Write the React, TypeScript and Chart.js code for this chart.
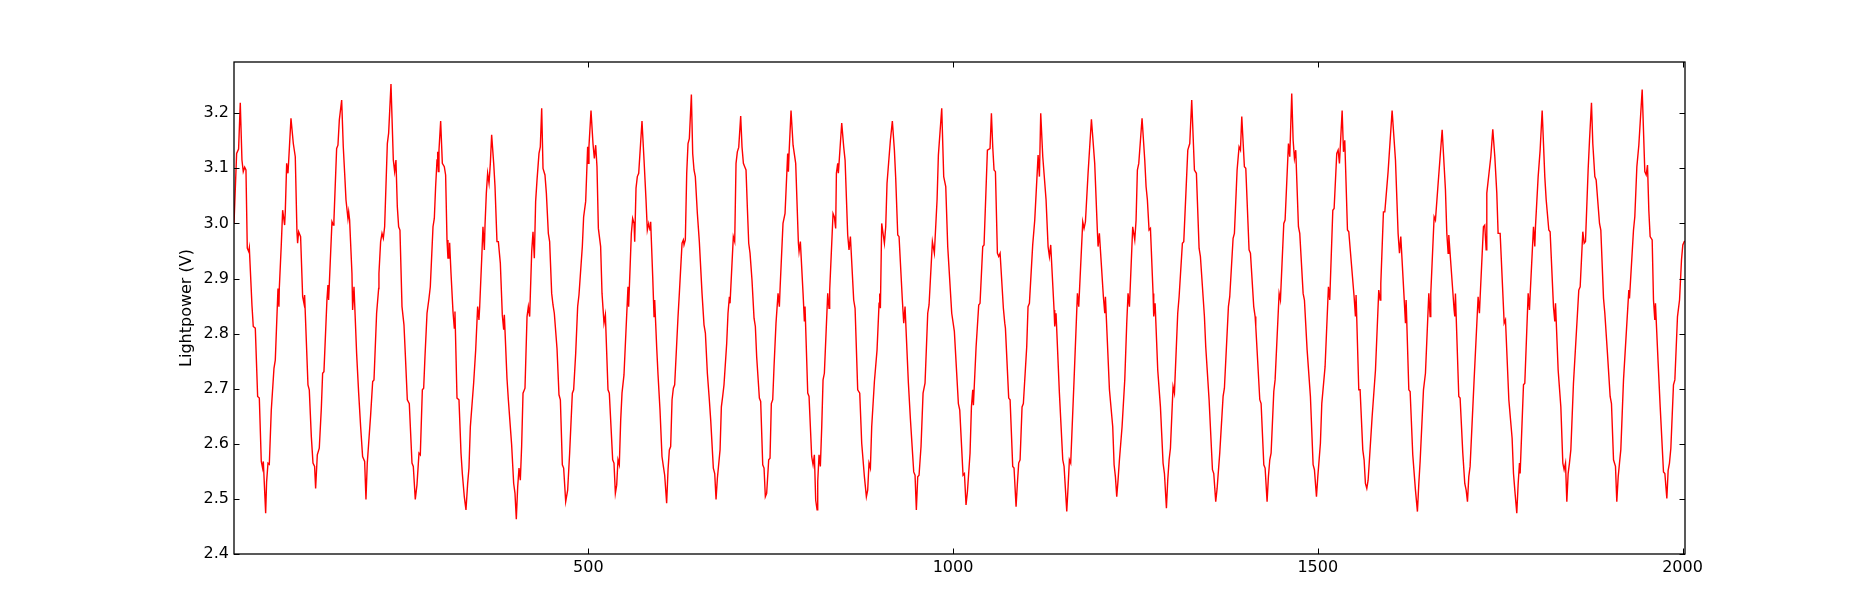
import React, { useEffect, useRef } from "react";
import { Chart, registerables } from "chart.js";

Chart.register(...registerables);

const X_MIN = 14.3;
const X_MAX = 2003.4;
const Y_MIN = 2.4;
const Y_MAX = 3.293;
const xTickValues = [500, 1000, 1500, 2000];
const yTickValues = [2.4, 2.5, 2.6, 2.7, 2.8, 2.9, 3.0, 3.1, 3.2];
const yAxisTitle = "Lightpower (V)";

const seg1 = [[14.3,3.000],[17.9,3.127],[20.6,3.135],[22.9,3.219],[25.2,3.115],[27.0,3.094],[28.9,3.102],[30.7,3.097],[32.5,2.955],[34.4,2.949],[35.3,2.956],[38.9,2.852],[40.7,2.813],[43.5,2.810],[46.7,2.686],[49.0,2.683],[51.7,2.568],[53.5,2.556],[54.5,2.568],[57.7,2.474],[59.0,2.531],[60.9,2.565],[62.7,2.563],[65.4,2.661],[69.1,2.737],[70.9,2.752],[74.6,2.882],[75.9,2.849],[76.4,2.882],[79.1,2.961],[81.0,3.024],[83.7,2.997],[84.6,3.021],[86.5,3.109],[88.3,3.091],[89.2,3.112],[92.4,3.191],[95.6,3.145],[98.3,3.121],[100.6,2.985],[101.5,2.964],[102.9,2.985],[105.6,2.976],[108.4,2.867],[110.2,2.855],[111.1,2.870],[115.7,2.707],[117.5,2.698],[120.3,2.613],[122.6,2.565],[124.8,2.559],[126.2,2.519],[128.5,2.580],[131.2,2.592],[134.0,2.664],[135.8,2.728],[137.6,2.731],[141.7,2.861],[143.1,2.888],[144.0,2.861],[144.9,2.888],[148.6,3.003],[150.4,2.997],[151.3,3.006],[155.0,3.136],[156.8,3.142],[158.7,3.188],[161.9,3.224],[164.1,3.139],[166.0,3.091],[167.8,3.043],[170.5,3.009],[171.5,3.021],[172.8,3.006],[176.0,2.909],[176.9,2.843],[178.8,2.885],[182.4,2.764],[185.2,2.692],[187.9,2.631],[190.6,2.577],[193.4,2.568],[195.2,2.499],[197.0,2.565],[198.9,2.601],[201.6,2.652],[204.4,2.713],[206.2,2.716],[209.8,2.837],[212.6,2.882],[213.0,2.909],[215.3,2.967],[217.2,2.982],[219.0,2.973],[220.8,2.994],[224.5,3.145],[226.3,3.164],[229.5,3.253],[232.7,3.115],[234.5,3.094],[236.3,3.115],[238.2,3.030],[240.0,2.994],[241.8,2.988],[244.6,2.849],[247.3,2.816],[249.1,2.764],[251.9,2.680],[254.6,2.673],[258.3,2.565],[260.1,2.559],[262.8,2.499]];

const seg2 = [[265.1,2.525],[267.9,2.583],[269.7,2.580],[272.5,2.698],[274.3,2.701],[276.1,2.758],[278.9,2.837],[281.6,2.864],[283.4,2.885],[287.1,2.994],[288.9,3.009],[290.7,3.067],[292.6,3.115],[293.5,3.130],[294.4,3.094],[295.3,3.133],[297.6,3.186],[299.9,3.109],[302.6,3.103],[304.4,3.088],[306.3,2.970],[307.6,2.937],[309.0,2.937],[309.9,2.965],[311.8,2.909],[314.5,2.840],[316.3,2.810],[317.2,2.840],[320.0,2.683],[322.7,2.680],[325.5,2.583],[327.3,2.546],[330.0,2.504],[332.3,2.480],[334.6,2.528],[336.4,2.556],[338.3,2.631],[342.8,2.710],[345.6,2.770],[348.3,2.849],[350.1,2.825],[351.1,2.849],[353.8,2.934],[355.6,2.994],[357.5,2.952],[358.4,2.997],[360.2,3.055],[362.0,3.091],[363.9,3.073],[365.7,3.109],[367.5,3.161],[370.3,3.109],[372.1,3.067],[374.8,2.967],[376.7,2.967],[379.4,2.928],[382.1,2.834],[384.0,2.807],[384.9,2.834],[388.5,2.719],[390.4,2.680],[394.9,2.598],[397.7,2.528],[399.5,2.510],[401.3,2.463],[403.2,2.522],[405.0,2.556],[406.8,2.534],[408.6,2.595],[410.5,2.692],[413.2,2.701],[416.0,2.831],[417.8,2.849],[419.6,2.831],[422.4,2.949],[424.2,2.985],[426.0,2.937],[427.8,3.040],[429.7,3.079],[432.4,3.127],[434.2,3.139],[436.1,3.209],[437.9,3.100],[440.6,3.088],[442.5,3.055],[445.2,2.982],[447.0,2.967],[449.8,2.873],[451.6,2.852],[453.4,2.837],[457.1,2.773],[459.8,2.689],[461.7,2.680],[464.4,2.562],[466.2,2.556],[469.0,2.495],[471.7,2.516],[474.4,2.583],[478.1,2.692],[479.9,2.698],[482.7,2.764],[485.4,2.849],[487.2,2.870],[491.8,2.958],[493.6,3.012],[496.4,3.040],[499.1,3.139],[500.0,3.109],[500.9,3.140],[503.7,3.205],[506.4,3.145],[508.3,3.118],[510.1,3.142],[511.9,3.103],[513.8,2.991]];

const seg3 = [[516.9,2.958],[518.8,2.873],[521.5,2.819],[523.4,2.834],[527.0,2.698],[528.8,2.692],[533.4,2.571],[535.2,2.565],[537.1,2.510],[538.9,2.525],[540.7,2.571],[542.5,2.562],[544.4,2.643],[546.2,2.692],[548.9,2.725],[551.7,2.807],[554.4,2.885],[555.3,2.849],[556.3,2.885],[559.0,2.982],[560.8,3.009],[562.7,3.000],[563.6,2.967],[565.4,3.064],[567.2,3.085],[569.1,3.091],[573.6,3.186],[576.4,3.115],[579.1,3.043],[580.9,2.988],[582.8,3.000],[584.6,2.988],[585.5,3.003],[588.3,2.903],[590.1,2.831],[591.0,2.861],[593.7,2.776],[595.6,2.725],[598.3,2.661],[601.0,2.577],[602.9,2.559],[604.7,2.543],[607.4,2.492],[609.3,2.553],[611.1,2.589],[612.9,2.595],[614.8,2.680],[616.6,2.701],[618.4,2.707],[623.0,2.831],[624.8,2.873],[628.5,2.964],[630.3,2.970],[631.2,2.961],[633.0,2.970],[634.9,3.091],[636.7,3.145],[638.5,3.154],[641.3,3.234],[643.1,3.127],[644.9,3.097],[646.7,3.085],[649.5,3.018],[652.2,2.967],[655.9,2.873],[658.6,2.816],[660.5,2.801],[663.2,2.728],[665.9,2.680],[667.8,2.643],[671.4,2.556],[673.3,2.546],[675.1,2.499],[676.9,2.537],[680.6,2.589],[682.4,2.667],[684.2,2.686],[686.0,2.707],[689.7,2.782],[691.5,2.837],[693.4,2.867],[694.3,2.855],[698.8,2.976],[700.7,2.967],[702.5,3.109],[704.3,3.130],[706.2,3.138],[708.9,3.195],[710.7,3.139],[712.6,3.109],[714.4,3.103],[716.2,3.097],[718.0,3.030],[719.9,2.964],[721.7,2.946],[724.4,2.897],[727.2,2.828],[729.0,2.813],[730.8,2.758],[734.5,2.683],[736.3,2.677],[739.1,2.562],[740.9,2.556],[742.7,2.504],[744.5,2.510],[747.3,2.571],[749.1,2.574],[750.9,2.673],[752.8,2.680],[754.6,2.740],[757.3,2.819],[760.1,2.873],[761.9,2.849],[762.8,2.879]];

const seg4 = [[766.9,3.000],[769.7,3.018],[773.3,3.127],[774.3,3.094],[775.2,3.127],[777.9,3.205],[780.7,3.142],[784.3,3.109],[788.0,2.964],[788.9,2.949],[790.7,2.967],[794.4,2.873],[796.2,2.822],[797.1,2.849],[800.8,2.692],[802.6,2.686],[806.2,2.577],[808.1,2.562],[809.9,2.580],[811.7,2.498],[813.6,2.480],[814.5,2.531],[816.3,2.580],[818.1,2.559],[820.0,2.631],[821.8,2.716],[823.6,2.728],[828.2,2.873],[830.0,2.846],[830.9,2.879],[835.5,3.018],[837.3,3.012],[839.1,2.991],[840.1,3.091],[841.9,3.109],[842.8,3.091],[847.4,3.182],[850.1,3.139],[852.0,3.115],[855.6,2.979],[857.4,2.952],[859.3,2.976],[863.8,2.861],[865.7,2.846],[869.3,2.698],[872.1,2.692],[874.8,2.601],[878.5,2.540],[881.2,2.504],[883.0,2.516],[884.8,2.565],[886.7,2.556],[888.5,2.631],[892.2,2.713],[895.8,2.770],[898.6,2.855],[899.5,2.873],[900.4,2.846],[902.2,3.000],[905.9,2.964],[907.7,2.994],[909.5,3.073],[914.1,3.151],[916.8,3.186],[919.6,3.133],[921.4,3.082],[924.2,2.979],[926.0,2.976],[930.5,2.861],[932.4,2.819],[934.2,2.849],[938.8,2.710],[941.5,2.646],[946.1,2.549],[947.9,2.543],[949.7,2.480],[951.6,2.540],[953.4,2.543],[956.1,2.595],[958.9,2.692],[961.6,2.710],[965.3,2.837],[967.1,2.852],[971.7,2.967],[974.4,2.946],[978.1,3.043],[979.9,3.124],[984.5,3.209],[987.2,3.085],[990.0,3.067],[992.7,2.958],[998.2,2.837],[1001.8,2.804],[1007.3,2.673],[1009.2,2.661],[1013.7,2.543],[1015.6,2.546]];

const seg5 = [[1017.8,2.489],[1019.7,2.513],[1023.3,2.583],[1025.2,2.667],[1027.0,2.698],[1027.9,2.670],[1031.6,2.776],[1035.2,2.852],[1037.0,2.855],[1040.7,2.958],[1042.5,2.961],[1047.1,3.133],[1050.7,3.136],[1052.6,3.200],[1054.4,3.139],[1056.2,3.097],[1058.1,3.094],[1060.8,2.946],[1062.6,2.940],[1064.5,2.946],[1069.0,2.846],[1070.9,2.819],[1071.8,2.810],[1076.3,2.683],[1078.2,2.680],[1081.8,2.559],[1083.6,2.556],[1086.4,2.486],[1088.2,2.528],[1090.0,2.565],[1091.9,2.571],[1094.6,2.667],[1096.4,2.673],[1101.0,2.776],[1102.8,2.849],[1104.7,2.855],[1109.2,2.961],[1112.0,3.006],[1116.6,3.124],[1118.4,3.085],[1120.2,3.200],[1123.0,3.121],[1127.5,3.043],[1130.3,2.958],[1132.1,2.940],[1133.9,2.961],[1138.5,2.843],[1139.4,2.813],[1141.2,2.837],[1145.8,2.692],[1150.4,2.571],[1152.2,2.559],[1155.9,2.477],[1157.7,2.522],[1159.5,2.571],[1161.3,2.565],[1165.9,2.716],[1170.5,2.873],[1172.3,2.849],[1177.8,3.003],[1179.6,2.991],[1181.5,3.003],[1185.1,3.091],[1189.7,3.189],[1194.2,3.109],[1197.9,2.985],[1198.8,2.958],[1200.6,2.982],[1206.1,2.867],[1208.0,2.837],[1208.9,2.867],[1214.4,2.698],[1218.9,2.631],[1220.8,2.562],[1222.6,2.540],[1224.4,2.504],[1226.2,2.534],[1228.1,2.571],[1231.7,2.631],[1235.4,2.716],[1238.1,2.819],[1239.9,2.873],[1241.8,2.849],[1246.3,2.994],[1249.1,2.970],[1250.9,3.006],[1252.7,3.097],[1254.6,3.109],[1259.1,3.191],[1262.8,3.115],[1264.6,3.067],[1266.4,3.043],[1268.7,2.988]];

const seg6 = [[1270.6,2.991],[1274.2,2.873],[1275.1,2.831],[1277.0,2.855],[1280.6,2.734],[1284.3,2.667],[1287.9,2.565],[1289.8,2.546],[1292.5,2.483],[1294.3,2.534],[1296.2,2.571],[1298.0,2.592],[1301.6,2.704],[1303.5,2.692],[1308.0,2.837],[1309.9,2.867],[1314.4,2.964],[1316.3,2.967],[1321.8,3.133],[1324.5,3.145],[1327.2,3.224],[1330.9,3.097],[1333.6,3.091],[1337.3,2.955],[1339.1,2.940],[1344.6,2.831],[1346.4,2.776],[1351.0,2.680],[1355.6,2.553],[1357.4,2.546],[1360.1,2.495],[1362.0,2.519],[1365.6,2.583],[1370.2,2.686],[1372.0,2.701],[1377.5,2.849],[1379.3,2.867],[1383.9,2.973],[1385.7,2.982],[1389.4,3.097],[1392.1,3.139],[1394.0,3.133],[1395.8,3.194],[1399.4,3.103],[1401.3,3.100],[1405.8,2.952],[1407.7,2.946],[1412.2,2.849],[1414.1,2.831],[1415.0,2.813],[1420.5,2.680],[1422.3,2.673],[1426.0,2.562],[1427.8,2.556],[1430.5,2.495],[1432.3,2.540],[1434.2,2.571],[1436.0,2.583],[1439.7,2.695],[1441.5,2.716],[1447.0,2.873],[1448.8,2.861],[1453.4,3.000],[1455.2,3.006],[1459.8,3.145],[1461.6,3.121],[1464.3,3.236],[1466.2,3.151],[1468.0,3.118],[1469.8,3.133],[1473.5,2.994],[1475.3,2.982],[1479.9,2.873],[1481.7,2.861],[1485.4,2.770],[1489.9,2.686],[1493.6,2.562],[1495.4,2.553],[1498.2,2.504],[1500.0,2.540],[1503.6,2.601],[1505.5,2.673],[1510.0,2.740],[1514.6,2.885],[1516.4,2.861]];

const seg7 = [[1520.6,3.024],[1522.4,3.027],[1526.0,3.127],[1527.9,3.133],[1529.7,3.109],[1533.4,3.205],[1535.2,3.130],[1537.0,3.151],[1540.7,2.988],[1542.5,2.985],[1549.8,2.867],[1551.6,2.831],[1552.5,2.870],[1556.2,2.698],[1558.0,2.698],[1561.7,2.589],[1563.5,2.571],[1565.3,2.528],[1567.2,2.519],[1569.0,2.534],[1570.8,2.571],[1574.5,2.649],[1579.1,2.734],[1583.6,2.879],[1585.5,2.861],[1586.4,2.891],[1590.0,3.021],[1591.9,3.021],[1596.4,3.094],[1601.9,3.205],[1606.5,3.115],[1610.1,2.982],[1612.0,2.946],[1613.8,2.976],[1618.4,2.864],[1620.2,2.819],[1621.1,2.861],[1624.8,2.698],[1626.6,2.695],[1630.2,2.580],[1633.9,2.516],[1636.6,2.477],[1638.5,2.528],[1640.3,2.568],[1644.9,2.698],[1647.6,2.728],[1652.2,2.873],[1654.0,2.831],[1654.9,2.873],[1659.5,3.012],[1661.3,3.006],[1665.0,3.073],[1670.5,3.170],[1675.0,3.061],[1676.9,2.982],[1678.7,2.946],[1679.6,2.979],[1686.9,2.843],[1687.8,2.831],[1688.7,2.873],[1693.3,2.686],[1695.1,2.683],[1698.8,2.583],[1701.5,2.528],[1703.4,2.516],[1705.2,2.495],[1707.0,2.540],[1708.8,2.559],[1714.3,2.716],[1719.8,2.867],[1721.6,2.837],[1722.6,2.867],[1727.1,2.994],[1728.9,2.997],[1730.8,2.952],[1731.7,3.055],[1737.2,3.121],[1739.9,3.171],[1742.7,3.121],[1745.4,3.055],[1747.2,2.982],[1750.0,2.982],[1754.5,2.849],[1755.5,2.819],[1757.3,2.825],[1761.9,2.680],[1766.4,2.610]];

const seg8 = [[1768.3,2.546],[1770.1,2.516],[1772.8,2.474],[1774.7,2.528],[1776.5,2.565],[1777.4,2.546],[1782.0,2.707],[1783.8,2.710],[1788.4,2.873],[1790.2,2.843],[1791.1,2.870],[1795.7,2.994],[1797.5,2.958],[1798.4,2.994],[1802.1,3.085],[1804.8,3.133],[1807.6,3.205],[1811.2,3.085],[1813.1,3.043],[1816.7,2.988],[1818.5,2.985],[1823.1,2.849],[1824.9,2.822],[1825.9,2.855],[1829.5,2.734],[1833.2,2.667],[1835.9,2.565],[1837.7,2.553],[1839.6,2.565],[1841.4,2.495],[1843.2,2.546],[1845.0,2.565],[1846.9,2.589],[1850.5,2.710],[1856.0,2.837],[1857.8,2.879],[1859.7,2.885],[1863.3,2.985],[1865.2,2.964],[1867.0,2.967],[1870.6,3.097],[1872.5,3.151],[1875.2,3.219],[1877.0,3.145],[1879.8,3.085],[1881.6,3.079],[1886.2,3.000],[1888.0,2.988],[1891.7,2.864],[1893.5,2.837],[1897.1,2.764],[1900.8,2.686],[1902.6,2.673],[1905.4,2.571],[1908.1,2.559],[1909.9,2.495],[1911.8,2.540],[1913.6,2.565],[1915.4,2.589],[1919.1,2.716],[1923.7,2.819],[1926.4,2.879],[1927.3,2.864],[1932.8,2.988],[1934.6,3.012],[1937.4,3.103],[1940.1,3.142],[1944.7,3.243],[1948.3,3.094],[1950.2,3.088],[1952.0,3.106],[1953.8,3.024],[1955.6,2.976],[1958.4,2.970],[1960.2,2.861],[1962.0,2.825],[1962.9,2.855],[1966.6,2.746],[1969.4,2.667],[1973.9,2.549],[1975.8,2.546],[1978.5,2.501],[1980.3,2.552],[1982.1,2.565],[1984.0,2.592],[1987.6,2.707],[1989.5,2.716],[1993.1,2.831],[1995.9,2.861],[1998.6,2.934],[2000.4,2.961],[2002.3,2.967],[2003.4,2.968]];

const FONT = "'DejaVu Sans', sans-serif";

const framePlugin = {
  id: "mplFrame",
  afterDraw(chart: any) {
    const { ctx, chartArea: a, scales } = chart;
    const xs = scales.x;
    const ys = scales.y;
    const tl = 5.5;
    ctx.save();
    ctx.strokeStyle = "#000";
    ctx.lineWidth = 1;
    ctx.beginPath();
    for (const v of xTickValues) {
      const px = Math.round(xs.getPixelForValue(v)) + 0.5;
      ctx.moveTo(px, a.bottom);
      ctx.lineTo(px, a.bottom - tl);
      ctx.moveTo(px, a.top);
      ctx.lineTo(px, a.top + tl);
    }
    for (const v of yTickValues) {
      const py = Math.round(ys.getPixelForValue(v)) + 0.5;
      ctx.moveTo(a.left, py);
      ctx.lineTo(a.left + tl, py);
      ctx.moveTo(a.right, py);
      ctx.lineTo(a.right - tl, py);
    }
    ctx.stroke();
    ctx.lineWidth = 1.3;
    ctx.strokeRect(a.left, a.top, a.right - a.left, a.bottom - a.top);
    ctx.restore();
  },
};

export default function App() {
  const ref = useRef<HTMLCanvasElement | null>(null);
  useEffect(() => {
    if (!ref.current) return;
    const points = [...seg1, ...seg2, ...seg3, ...seg4, ...seg5, ...seg6, ...seg7, ...seg8].map(
      ([x, y]) => ({ x, y })
    );
    const chart = new Chart(ref.current, {
      type: "line",
      data: {
        datasets: [
          {
            data: points,
            borderColor: "#ff0000",
            borderWidth: 1.4,
            pointRadius: 0,
            tension: 0,
            fill: false,
          },
        ],
      },
      options: {
        animation: false,
        responsive: false,
        events: [],
        layout: { padding: { top: 62, right: 187, bottom: 0, left: 0 } },
        plugins: { legend: { display: false }, tooltip: { enabled: false } },
        scales: {
          x: {
            type: "linear",
            min: X_MIN,
            max: X_MAX,
            afterBuildTicks: (s: any) => {
              s.ticks = xTickValues.map((v) => ({ value: v }));
            },
            afterFit: (s: any) => {
              s.height = 61;
            },
            grid: { display: false, drawTicks: false },
            border: { display: false },
            ticks: {
              padding: 4,
              color: "#000",
              font: { family: FONT, size: 16 },
              maxRotation: 0,
              autoSkip: false,
              callback: (v: any) => String(v),
            },
          },
          y: {
            type: "linear",
            min: Y_MIN,
            max: Y_MAX,
            afterBuildTicks: (s: any) => {
              s.ticks = yTickValues.map((v) => ({ value: v }));
            },
            afterFit: (s: any) => {
              s.width = 234;
            },
            grid: { display: false, drawTicks: false },
            border: { display: false },
            ticks: {
              padding: 5,
              color: "#000",
              font: { family: FONT, size: 16 },
              autoSkip: false,
              callback: (v: any) => Number(v).toFixed(1),
            },
            title: {
              display: true,
              text: yAxisTitle,
              color: "#000",
              font: { family: FONT, size: 16 },
              padding: { top: 177, bottom: 0 },
            },
          },
        },
      },
      plugins: [framePlugin],
    });
    return () => chart.destroy();
  }, []);

  return (
    <div style={{ position: "fixed", left: 0, top: 0, width: 1872, height: 615, background: "#fff" }}>
      <canvas ref={ref} width={1872} height={615} style={{ display: "block", width: 1872, height: 615 }} />
    </div>
  );
}
